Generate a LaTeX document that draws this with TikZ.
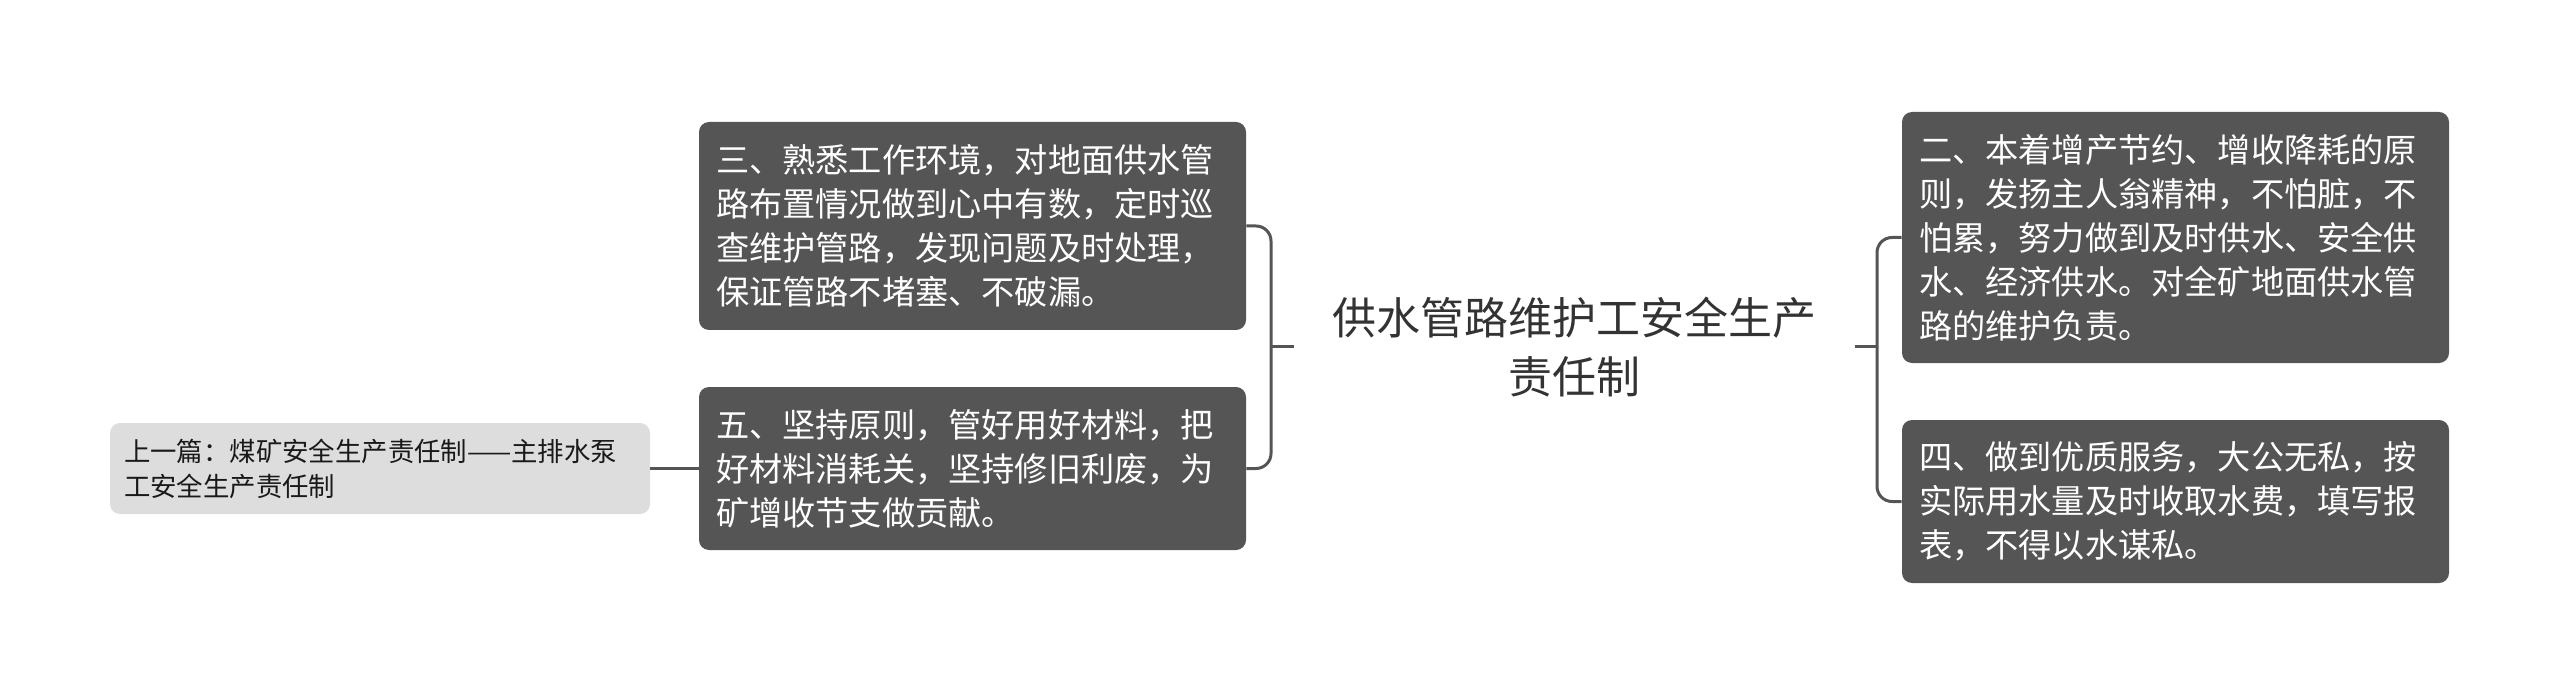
\documentclass[tikz,border=0pt]{standalone}
\usepackage{fontspec}
\setmainfont{Noto Sans CJK SC}
\definecolor{darkbox}{HTML}{555555}
\definecolor{lightbox}{HTML}{DDDDDD}
\definecolor{linecol}{HTML}{555555}
\definecolor{titlecol}{HTML}{333333}
\tikzset{
  darknode/.style={fill=darkbox, rounded corners=5pt, text=white, align=left,
    font=\fontsize{16.6pt}{22pt}\selectfont, inner xsep=8.5pt, inner ysep=0pt,
    text width=256.5pt, minimum width=273.5pt},
  lightnode/.style={fill=lightbox, rounded corners=5pt, text=black!90, align=left,
    font=\fontsize{13.2pt}{17.5pt}\selectfont, inner xsep=7pt, inner ysep=0pt,
    text width=256pt, minimum width=270pt, minimum height=45.5pt},
  titlenode/.style={text=titlecol, align=center, font=\fontsize{22pt}{29.5pt}\selectfont,
    inner xsep=19pt, inner ysep=4pt},
  conn/.style={draw=linecol, line width=1.5pt},
}
\begin{document}
\begin{tikzpicture}[x=0.5pt,y=-0.5pt]
\useasboundingbox (0,0) rectangle (2560,695);
\node[titlenode] (c) at (1574.5,347) {供水管路维护工安全生产\\责任制};
\node[darknode, minimum height=104pt] (b3) at (972.5,226) {三、熟悉工作环境，对地面供水管\\路布置情况做到心中有数，定时巡\\查维护管路，发现问题及时处理，\\保证管路不堵塞、不破漏。};
\node[darknode, minimum height=81.5pt] (b5) at (972.5,468.5) {五、坚持原则，管好用好材料，把\\好材料消耗关，坚持修旧利废，为\\矿增收节支做贡献。};
\node[darknode, minimum height=125.5pt] (b2) at (2175.5,237.5) {二、本着增产节约、增收降耗的原\\则，发扬主人翁精神，不怕脏，不\\怕累，努力做到及时供水、安全供\\水、经济供水。对全矿地面供水管\\路的维护负责。};
\node[darknode, minimum height=81.5pt] (b4) at (2175.5,501.5) {四、做到优质服务，大公无私，按\\实际用水量及时收取水费，填写报\\表，不得以水谋私。};
\node[lightnode] (prev) at (380,468.5) {上一篇：煤矿安全生产责任制——主排水泵\\工安全生产责任制};
\coordinate (lj) at (1271,347);
\coordinate (rj) at (1877,347);
\draw[conn] (c.west) -- (lj);
\draw[conn, rounded corners=7.5pt] (b3.east) -| (lj);
\draw[conn, rounded corners=7.5pt] (b5.east) -| (lj);
\draw[conn] (c.east) -- (rj);
\draw[conn, rounded corners=7.5pt] (b2.west) -| (rj);
\draw[conn, rounded corners=7.5pt] (b4.west) -| (rj);
\draw[conn] (prev.east) -- (b5.west);
\end{tikzpicture}
\end{document}
